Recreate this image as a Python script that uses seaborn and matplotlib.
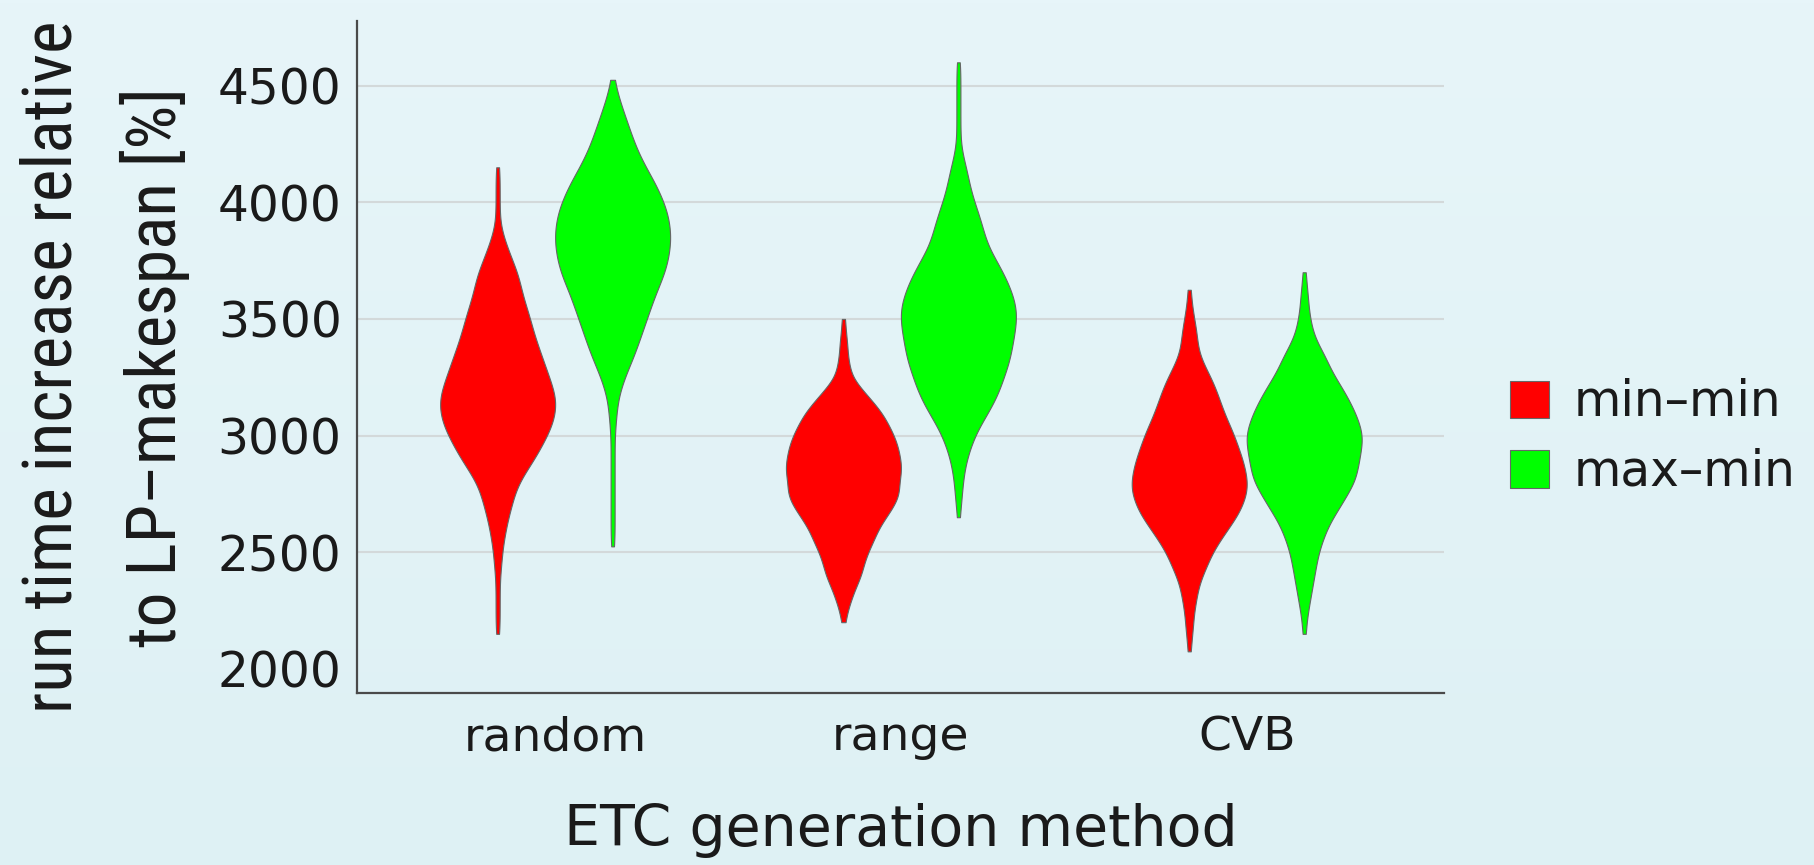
import numpy as np
import pandas as pd
import matplotlib
matplotlib.use("Agg")
import matplotlib.pyplot as plt
from matplotlib import font_manager
from matplotlib.ticker import MultipleLocator, FixedLocator, NullFormatter
import seaborn as sns

# ETC generation methods and the two scheduling heuristics
methods = ["random", "range", "CVB"]
heuristics = ["min–min", "max–min"]
palette = {"min–min": "#ff0000", "max–min": "#00ff00"}

# run-time increases are binned every 50 %; each violin is stored as its
# lowest bin value and the number of runs that fall in each bin
bin_step = 50

random_minmin_start = 2150
random_minmin_counts = [1, 1, 1, 1, 1, 1, 2, 2, 3, 4, 5, 7, 8, 10, 14, 18, 21, 24,
                        27, 28, 29, 27, 25, 23, 21, 19, 17, 16, 14, 12, 11, 10, 7,
                        5, 3, 1, 1, 1, 1, 1, 1]

random_maxmin_start = 2525
random_maxmin_counts = [1, 1, 1, 1, 1, 1, 1, 1, 1, 1, 1, 2, 2, 3, 5, 7, 10, 12, 14,
                        16, 18, 20, 22, 25, 27, 28, 29, 29, 28, 27, 24, 22, 18, 15,
                        12, 10, 8, 6, 4, 2, 1]

range_minmin_start = 2200
range_minmin_counts = [1, 2, 4, 6, 9, 10, 12, 15, 17, 21, 25, 28, 27, 29, 28, 27,
                       25, 22, 19, 14, 9, 4, 3, 2, 2, 1, 1]

range_maxmin_start = 2650
range_maxmin_counts = [1, 1, 2, 2, 3, 4, 6, 8, 11, 15, 18, 21, 22, 25, 26, 27, 28,
                       29, 29, 27, 25, 22, 19, 15, 13, 12, 10, 8, 6, 5, 4, 2, 1,
                       1, 1, 1, 1, 1, 1, 1]

cvb_minmin_start = 2075
cvb_minmin_counts = [1, 1, 2, 2, 3, 4, 5, 8, 10, 13, 17, 21, 25, 27, 29, 28, 27, 25,
                     23, 21, 18, 16, 14, 12, 9, 6, 4, 4, 3, 2, 1, 1]

cvb_maxmin_start = 2150
cvb_maxmin_counts = [1, 1, 2, 3, 4, 5, 6, 7, 9, 11, 14, 18, 21, 25, 26, 27, 28, 29,
                     27, 25, 22, 19, 15, 12, 10, 6, 4, 3, 2, 2, 1, 1]

violins = [
    ("random", "min–min", random_minmin_start, random_minmin_counts),
    ("random", "max–min", random_maxmin_start, random_maxmin_counts),
    ("range", "min–min", range_minmin_start, range_minmin_counts),
    ("range", "max–min", range_maxmin_start, range_maxmin_counts),
    ("CVB", "min–min", cvb_minmin_start, cvb_minmin_counts),
    ("CVB", "max–min", cvb_maxmin_start, cvb_maxmin_counts),
]

frames = []
for method, heur, start, counts in violins:
    levels = start + bin_step * np.arange(len(counts))
    frames.append(pd.DataFrame({
        "method": method,
        "heuristic": heur,
        "increase": np.repeat(levels, counts),
    }))
df = pd.concat(frames, ignore_index=True)

y_major = [2000, 2500, 3000, 3500, 4000, 4500]

sns.set_theme(style="white")
plt.rcParams["font.family"] = ["DejaVu Sans"]
text_color = "#1a1a1a"
axis_color = "#4a4a4a"

# narrow face for the long vertical axis title
installed = font_manager.fontManager.ttflist


def has_face(name, stretch=None):
    return any(f.name == name and (stretch is None or f.stretch == stretch)
               for f in installed)


if has_face("Liberation Sans Narrow"):
    ylab_font = dict(family="Liberation Sans Narrow", size=56)
elif has_face("Roboto Condensed"):
    ylab_font = dict(family="Roboto Condensed", size=50)
elif has_face("Noto Sans", "condensed"):
    ylab_font = dict(family="Noto Sans", stretch="condensed", size=49)
elif has_face("DejaVu Sans", "condensed"):
    ylab_font = dict(family="DejaVu Sans", stretch="condensed", size=44)
else:
    ylab_font = dict(family="Liberation Sans", size=46)

fig = plt.figure(figsize=(18.14, 8.65), dpi=100)

# soft light-blue backdrop
bg = fig.add_axes([0, 0, 1, 1], zorder=-10)
grad = np.linspace(0, 1, 256)[:, None]
bg_cmap = matplotlib.colors.LinearSegmentedColormap.from_list(
    "bg", ["#e7f5f9", "#def1f4"])
bg.imshow(grad, aspect="auto", cmap=bg_cmap, extent=[0, 1, 0, 1])
bg.set_axis_off()

ax = fig.add_axes([0.1968, 0.199, 0.5995, 0.7767])
ax.set_facecolor("none")

sns.violinplot(data=df, x="method", y="increase", hue="heuristic",
               order=methods, hue_order=heuristics, palette=palette,
               saturation=1, width=0.665, gap=0, cut=0, inner=None,
               density_norm="width", bw_method=0.17, gridsize=300,
               linewidth=0.8, linecolor="#666666", ax=ax, zorder=3)

ax.set_xlim(-0.573, 2.572)
ax.set_ylim(1897, 4777)

# y axis: labelled majors every 500, minors every 100, ticks pointing in
ax.yaxis.set_major_locator(FixedLocator(y_major))
ax.yaxis.set_minor_locator(MultipleLocator(100))
ax.tick_params(axis="y", which="major", direction="in", length=10, width=1.4,
               color=axis_color, labelsize=35, labelcolor=text_color, pad=11)
ax.tick_params(axis="y", which="minor", direction="in", length=5.5, width=1.2,
               color=axis_color)

# x axis: a tick under each violin, category names centred under each pair
offset = 0.665 / 4
violin_pos = [i + s * offset for i in range(len(methods)) for s in (-1, 1)]
ax.xaxis.set_major_locator(FixedLocator(violin_pos))
ax.xaxis.set_major_formatter(NullFormatter())
ax.xaxis.set_minor_locator(FixedLocator(range(len(methods))))
ax.set_xticklabels(methods, minor=True)
ax.tick_params(axis="x", which="major", direction="in", length=6.5, width=1.2,
               color=axis_color)
ax.tick_params(axis="x", which="minor", length=0, labelsize=34,
               labelcolor=text_color, pad=16)

ax.grid(axis="y", which="major", color="#d3d9da", linewidth=1.5, zorder=0)
ax.set_axisbelow(True)
ax.get_ygridlines()[0].set_visible(False)

for side in ("top", "right"):
    ax.spines[side].set_visible(False)
for side in ("left", "bottom"):
    ax.spines[side].set_color(axis_color)
    ax.spines[side].set_linewidth(1.6)

ax.set_xlabel("ETC generation method", fontsize=41, color=text_color, labelpad=31)
ax.set_ylabel("run time increase relative\nto LP–makespan [%]",
              color=text_color, linespacing=1.6, **ylab_font)
ax.yaxis.set_label_coords(-0.154, 0.485)

old = ax.get_legend()
handles = old.legend_handles
labels = [t.get_text() for t in old.get_texts()]
old.remove()
fig.legend(handles, labels, loc="center left",
           bbox_to_anchor=(0.8324, 0.4948), bbox_transform=fig.transFigure,
           frameon=False, fontsize=35, labelcolor=text_color,
           handlelength=0.8, handleheight=0.8, handletextpad=0.5,
           labelspacing=0.45, borderpad=0, borderaxespad=0)

fig.savefig("out.png", dpi=100)
